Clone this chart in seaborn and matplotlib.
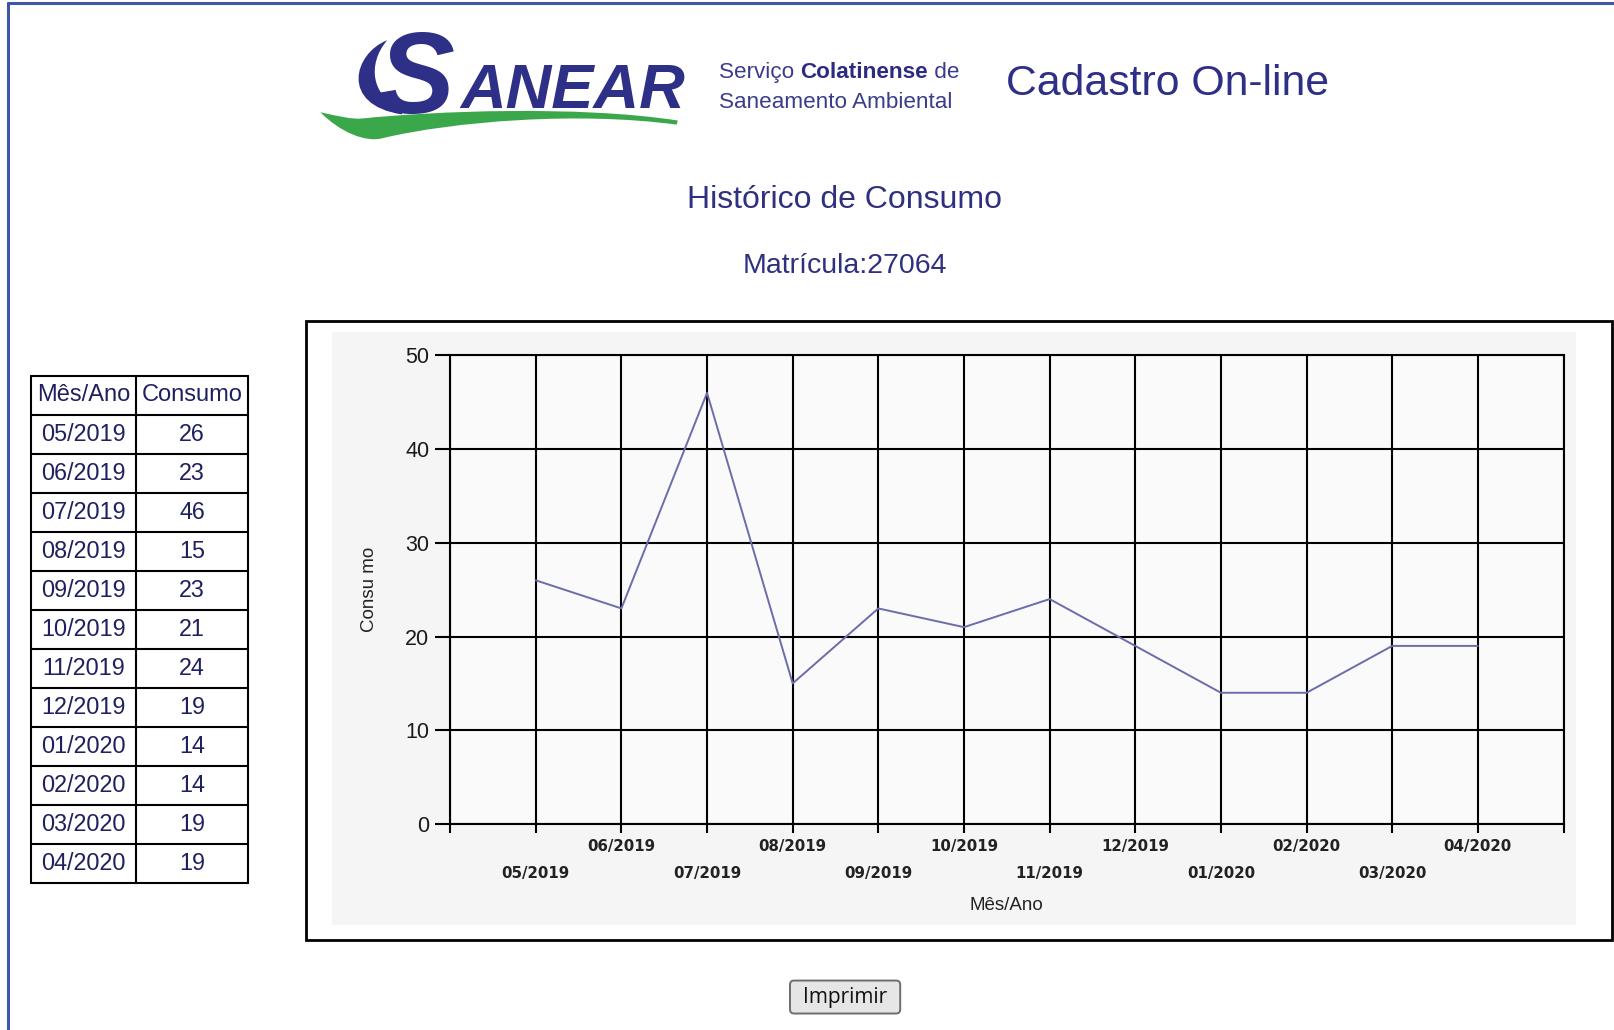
import numpy as np
import pandas as pd
import matplotlib
matplotlib.use('Agg')
import matplotlib.pyplot as plt
import seaborn as sns
from matplotlib.path import Path
from matplotlib.patches import PathPatch, Rectangle, FancyBboxPatch

# dados do histórico
meses = ['05/2019', '06/2019', '07/2019', '08/2019', '09/2019', '10/2019',
         '11/2019', '12/2019', '01/2020', '02/2020', '03/2020', '04/2020']
consumo = [26, 23, 46, 15, 23, 21, 24, 19, 14, 14, 19, 19]
y_ticks = [0, 10, 20, 30, 40, 50]

titulo = 'Histórico de Consumo'
matricula = 'Matrícula:27064'

sns.set_theme(style='white')
plt.rcParams['font.family'] = ['Liberation Sans', 'DejaVu Sans']

NAVY = '#2e2f86'
TXT = '#1f2060'

fig = plt.figure(figsize=(16.15, 10.30), dpi=100)
fig.patch.set_facecolor('white')

# fundo em coordenadas de "pixel" (1568 x 1000, y para baixo)
bg = fig.add_axes([0, 0, 1, 1])
bg.set_xlim(0, 1568)
bg.set_ylim(1000, 0)
bg.axis('off')

# bordas da página
bg.plot([8, 1568], [3, 3], color='#3f55a5', lw=2.2)
bg.plot([8, 8], [3, 1000], color='#3f55a5', lw=2.2)

# logo SANEAR
swoosh = Path([(311, 109), (330, 113), (340, 116), (352, 115),
               (420, 108), (560, 102), (658, 117),
               (657, 121),
               (560, 108), (440, 118), (372, 134),
               (355, 139), (330, 128), (311, 109)],
              [Path.MOVETO, Path.CURVE4, Path.CURVE4, Path.CURVE4,
               Path.CURVE4, Path.CURVE4, Path.CURVE4,
               Path.LINETO,
               Path.CURVE4, Path.CURVE4, Path.CURVE4,
               Path.CURVE4, Path.CURVE4, Path.CURVE4])
bg.add_patch(PathPatch(swoosh, facecolor='#3aa84a', edgecolor='none', zorder=1))
crescent = Path([(376, 39), (343, 52), (330, 102), (390, 111),
                 (393, 106), (360, 96), (356, 62), (376, 39)],
                [Path.MOVETO, Path.CURVE4, Path.CURVE4, Path.CURVE4,
                 Path.LINETO, Path.CURVE4, Path.CURVE4, Path.CURVE4])
bg.add_patch(PathPatch(crescent, facecolor=NAVY, edgecolor='none', zorder=2))
bg.text(367, 110, 'S', fontsize=83, fontweight='bold', fontstyle='italic',
        color=NAVY, va='baseline', ha='left', zorder=3)
bg.text(447, 105, 'ANEAR', fontsize=45.5, fontweight='bold', fontstyle='italic',
        color=NAVY, va='baseline', ha='left', zorder=3)

narrow = ['Liberation Sans Narrow', 'Liberation Sans']
t1 = bg.text(698, 76, 'Serviço ', fontsize=16.2, family=narrow, color='#3b3c8c',
             va='baseline')
t2 = bg.annotate('Colatinense', xy=(1, 0), xycoords=t1, fontsize=16.2,
                 family=narrow, fontweight='bold', color='#2b2c80',
                 va='bottom', ha='left')
bg.annotate(' de', xy=(1, 0), xycoords=t2, fontsize=16.2, family=narrow,
            color='#3b3c8c', va='bottom', ha='left')
bg.text(698, 105, 'Saneamento Ambiental', fontsize=16.2, family=narrow,
        color='#3b3c8c', va='baseline')

bg.text(1134, 82, 'Cadastro On-line', fontsize=30.8, color=NAVY,
        ha='center', va='center')
bg.text(820, 194, titulo, fontsize=23, color='#2f3080', ha='center', va='center')
bg.text(820, 258, matricula, fontsize=20.5, color='#2f3080', ha='center', va='center')

# tabela
x0, xm, x1 = 30, 132, 241
row_h = 37.9
top = 365
n_rows = len(meses) + 1
for i in range(n_rows + 1):
    yy = top + i * row_h
    bg.plot([x0, x1], [yy, yy], color='black', lw=1.5)
for xx in (x0, xm, x1):
    bg.plot([xx, xx], [top, top + n_rows * row_h], color='black', lw=1.5)
bg.text((x0 + xm) / 2, top + row_h / 2, 'Mês/Ano', fontsize=17, color=TXT,
        ha='center', va='center')
bg.text((xm + x1) / 2, top + row_h / 2, 'Consumo', fontsize=17, color=TXT,
        ha='center', va='center')
for i, (m, c) in enumerate(zip(meses, consumo)):
    yc = top + (i + 1.5) * row_h
    bg.text((x0 + xm) / 2, yc, m, fontsize=16.8, color=TXT, ha='center', va='center')
    bg.text((xm + x1) / 2, yc, str(c), fontsize=16.8, color=TXT, ha='center', va='center')

# moldura do gráfico
bg.add_patch(Rectangle((322, 322), 1208, 576, facecolor='#f5f5f5',
                       edgecolor='none', zorder=0))
bg.add_patch(Rectangle((297, 312), 1268, 601, facecolor='none',
                       edgecolor='black', lw=2, zorder=4))

# botão
bg.add_patch(FancyBboxPatch((767, 952), 107, 32, boxstyle='round,pad=0,rounding_size=4',
                            facecolor='#e6e6e6', edgecolor='#6e6e6e', lw=1.4))
bg.text(820.5, 968, 'Imprimir', fontsize=15, family=['Open Sans', 'DejaVu Sans'],
        color='#111111', ha='center', va='center')

# gráfico
ax = fig.add_axes([437 / 1568, 0.200, (1518 - 437) / 1568, 0.455])
ax.set_facecolor('#fafafa')
df = pd.DataFrame({'pos': np.arange(len(meses)), 'consumo': consumo})
sns.lineplot(data=df, x='pos', y='consumo', ax=ax, color='#6c6cab', lw=1.4)

ax.set_xlim(-1, len(meses))
ax.set_ylim(y_ticks[0], y_ticks[-1])
ax.set_yticks(y_ticks)
ax.set_yticklabels([str(v) for v in y_ticks], fontsize=15.5, color='#1a1a1a')

pos = np.arange(len(meses))
ax.set_xticks(pos[1::2])
ax.set_xticklabels(meses[1::2])
ax.set_xticks(np.concatenate(([-1], pos[0::2], [len(meses)])), minor=True)
ax.set_xticklabels([''] + meses[0::2] + [''], minor=True)
for lab in ax.get_xticklabels(which='both'):
    lab.set_fontsize(10.8)
    lab.set_fontweight('bold')
    lab.set_family(['DejaVu Sans'])
    lab.set_color('#222222')

ax.tick_params(axis='x', which='major', length=6.5, width=1.5, color='black',
               pad=4.5, bottom=True)
ax.tick_params(axis='x', which='minor', length=6.5, width=1.5, color='black',
               pad=24, bottom=True)
ax.tick_params(axis='y', length=11, width=1.5, color='black', pad=4, left=True)

ax.grid(True, which='both', axis='x', color='black', lw=1.5)
ax.grid(True, which='major', axis='y', color='black', lw=1.5)
for sp in ax.spines.values():
    sp.set_visible(True)
    sp.set_color('black')
    sp.set_linewidth(1.5)

ax.set_ylabel('Consu mo', fontsize=13.5, color='#222222')
ax.yaxis.set_label_coords(-0.065, 0.5)
ax.set_xlabel('Mês/Ano', fontsize=13.5, color='#222222')
ax.xaxis.set_label_coords(0.5, -0.156)

fig.savefig('out.png', dpi=100, facecolor='white')
